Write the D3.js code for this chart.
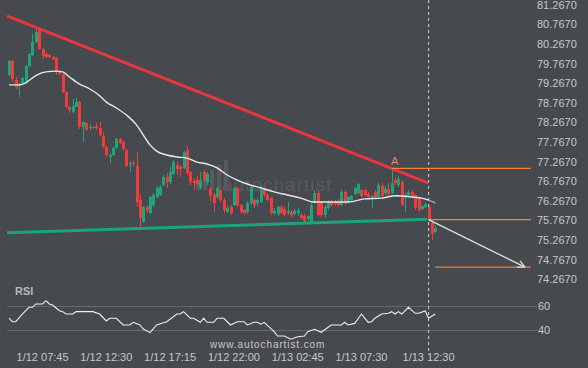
<!DOCTYPE html>
<html><head><meta charset="utf-8">
<script src="https://cdn.jsdelivr.net/npm/d3@7"></script>
<style>
html,body{margin:0;padding:0;background:#46494e;}
svg{display:block;}
text{font-family:"Liberation Sans",Arial,sans-serif;}
</style></head><body>
<svg id="c" width="588" height="368"></svg>
<script>
// ---- DATA ----
const opens = [79.48,79.84,79.35,79.20,79.28,79.30,79.71,79.99,80.32,80.63,
 80.15,80.02,79.99,79.94,79.92,79.56,79.51,79.05,78.67,78.54,
 78.67,78.79,78.16,78.26,78.13,78.16,78.18,78.13,77.93,77.65,
 77.39,77.44,77.62,77.85,77.77,77.57,77.21,77.24,77.16,76.29,
 75.73,76.11,75.96,76.17,76.37,76.42,76.68,76.88,76.75,76.96,
 77.19,77.14,77.11,77.57,77.01,76.78,76.80,76.60,77.01,76.73,
 76.57,76.42,76.37,76.55,76.29,75.99,76.11,76.17,76.60,76.17,
 76.04,75.99,76.22,76.29,76.22,76.24,76.57,76.42,76.34,75.96,
 75.94,76.11,76.06,75.96,75.99,75.94,75.96,75.91,75.89,75.81,
 75.73,76.22,76.47,76.22,75.91,76.09,76.24,76.24,76.24,76.17,
 76.50,76.24,76.29,76.45,76.47,76.55,76.55,76.45,76.37,76.50,
 76.37,76.65,76.47,76.57,76.47,76.80,76.68,76.75,76.34,76.42,
 76.50,76.42,76.32,76.06,76.11,76.11,75.71,75.48];
const highs = [79.86,79.86,79.43,79.28,79.43,79.74,80.04,80.55,80.66,80.68,
 80.17,80.07,80.02,79.97,79.94,79.58,79.53,79.07,78.69,78.87,
 78.90,78.82,78.31,78.28,78.23,78.18,78.26,78.28,78.03,77.67,
 77.49,77.65,77.88,77.88,77.80,77.59,77.29,77.29,77.52,76.45,
 76.14,76.17,76.40,76.47,76.65,76.68,76.93,76.98,77.14,77.31,
 77.26,77.19,77.54,77.67,77.03,76.85,76.91,77.01,77.06,77.01,
 76.63,76.47,76.63,76.57,76.34,76.14,76.17,76.63,76.63,76.19,
 76.06,76.27,76.65,76.32,76.34,76.68,76.60,76.47,76.37,76.09,
 76.14,76.17,76.11,76.24,76.04,76.06,76.09,75.96,75.94,75.91,
 76.22,76.55,76.55,76.27,76.17,76.29,76.29,76.29,76.32,76.55,
 76.55,76.40,76.42,76.63,76.73,76.57,76.57,76.50,76.42,76.55,
 76.73,76.73,76.65,76.73,77.11,76.88,76.91,76.80,76.47,76.55,
 76.55,76.45,76.37,76.17,76.22,76.17,75.73,75.65];
const lows = [79.43,79.30,79.13,78.92,79.25,79.28,79.69,79.97,80.30,80.12,
 79.89,79.92,79.92,79.86,79.48,79.48,79.02,78.64,78.51,78.51,
 78.67,78.10,77.77,78.05,78.08,78.10,78.08,77.93,77.62,77.39,
 77.24,77.42,77.59,77.72,77.57,77.14,77.01,77.14,76.11,75.60,
 75.71,75.96,75.94,76.11,76.34,76.40,76.65,76.60,76.70,76.93,
 76.93,76.88,77.08,76.93,76.68,76.55,76.65,76.55,76.75,76.68,
 76.27,75.99,76.32,76.24,75.96,75.96,75.91,76.14,76.11,75.94,
 75.91,75.94,76.17,76.09,76.14,76.22,76.37,76.27,75.91,75.91,
 75.89,75.94,75.89,75.91,75.86,75.89,75.89,75.81,75.73,75.76,
 75.71,76.19,75.89,75.86,75.83,76.04,76.11,76.14,76.11,76.14,
 76.17,76.22,76.27,76.42,76.45,76.34,76.40,76.32,76.09,76.34,
 76.34,76.37,76.42,76.42,76.45,76.68,76.63,76.14,75.99,76.37,
 76.34,76.04,75.99,76.04,76.09,75.73,75.27,75.45];
const closes = [79.84,79.38,79.18,79.25,79.41,79.71,80.02,80.32,80.58,80.15,
 79.97,79.94,79.94,79.89,79.56,79.51,79.05,78.67,78.59,78.69,
 78.79,78.16,78.28,78.08,78.16,78.13,78.13,77.95,77.65,77.44,
 77.44,77.62,77.85,77.75,77.59,77.16,77.24,77.21,76.24,75.83,
 76.11,76.04,76.37,76.42,76.60,76.63,76.88,76.75,77.01,77.26,
 77.08,77.08,77.52,76.98,76.75,76.73,76.70,76.80,76.80,76.96,
 76.40,76.22,76.60,76.29,76.04,76.09,75.96,76.60,76.17,75.99,
 75.96,76.22,76.63,76.17,76.29,76.60,76.42,76.29,75.96,76.01,
 76.11,75.96,75.91,76.01,75.91,76.01,76.04,75.83,75.76,75.89,
 76.17,76.47,75.91,75.91,76.11,76.22,76.17,76.19,76.17,76.50,
 76.22,76.37,76.40,76.60,76.70,76.40,76.42,76.37,76.40,76.37,
 76.68,76.40,76.57,76.45,76.73,76.73,76.83,76.17,76.42,76.50,
 76.40,76.09,76.04,76.14,76.19,75.78,75.43,75.58];

const maIdx = [0,3,5,7,9,11,14,16,18,21,24,27,29,32,35,38,40,42,44,47,50,53,56,59,62,65,68,71,75,79,83,87,91,96,101,106,111,115,120,123,125,127];
const maVals = [79.23,79.23,79.28,79.41,79.51,79.56,79.58,79.56,79.43,79.25,79.13,78.95,78.79,78.64,78.46,78.21,77.95,77.70,77.54,77.44,77.39,77.36,77.26,77.21,77.11,76.93,76.80,76.70,76.60,76.50,76.42,76.34,76.24,76.24,76.24,76.32,76.34,76.40,76.37,76.34,76.29,76.22];

const rsiIdx = [0,1,2,4,5,6,7,8,10,11,12,13,15,16,17,19,20,25,27,29,30,32,34,36,37,39,40,42,44,46,47,50,51,52,54,55,57,58,59,61,62,64,66,68,70,71,73,74,75,76,79,80,82,84,86,88,89,91,92,93,96,99,100,101,103,105,107,108,109,111,113,114,115,116,117,119,121,122,124,125,127];
const rsiVals = [49.8,46.9,46.9,53.3,56.1,58.9,58.9,61.7,61.7,64.4,61.7,60.8,56.1,55.3,53.3,53.3,55.3,55.3,53.3,47.5,49.8,49.8,44.2,44.2,46.4,44.2,40.8,37.8,44.2,46.1,46.9,53.3,53.3,55.3,49.8,49.8,46.4,49.8,46.4,46.4,49.8,49.8,44.2,46.9,46.9,44.2,46.4,46.4,44.8,46.4,38.6,35,35,32.3,34.4,35,38.6,40.6,39.4,38.1,44.2,44.2,46.4,44.2,45.5,53.3,46.4,46.9,49.8,53.3,53.9,55.3,53.3,55.3,53.3,58.9,53.9,53.9,55.8,49.8,53.3];

const priceTicks = [81.267,80.767,80.267,79.767,79.267,78.767,78.267,77.767,77.267,76.767,76.267,75.767,75.267,74.767,74.267];
const rsiTicks = [60,40];
const timeIdx = [10,29,48,67,86,105,125];
const timeLabels = ["1/12 07:45","1/12 12:30","1/12 17:15","1/12 22:00","1/13 02:45","1/13 07:30","1/13 12:30"];

const resIdx = [-0.6,124.8], resVals = [80.99,76.73];
const supIdx = [-0.6,124.5], supVals = [75.46,75.80];
const nowIdx = 125;
const levelA = 77.10, levelAStart = 114;
const levelBreak = 75.79;
const levelTarget = 74.58;
const arrowIdx = [125,153.7], arrowVals = [75.79,74.58];
const levelEndIdx = 155.5;

// ---- SCALES ----
const svg = d3.select("#c");
const x = d3.scaleLinear().domain([0,127]).range([9,435.3]);
const y = d3.scaleLinear().domain([74.267,81.267]).range([279.4,5]);
const yr = d3.scaleLinear().domain([40,60]).range([330,306]);

const GREEN = "#1ca47a", RED = "#f23c3c", ORANGE = "#f0843c", LBL = "#c8c8c8";

// watermark
const wm = svg.append("g").attr("opacity",0.09);
[[196,180],[203,175],[210,170],[217,165],[224,160]].forEach(d=>{
  wm.append("rect").attr("x",d[0]).attr("y",d[1]).attr("width",4).attr("height",190-d[1]).attr("fill","#fff");
});
wm.append("text").attr("x",222).attr("y",191).attr("font-size",19).attr("letter-spacing",1)
  .attr("fill","#fff").text("autochartist");

// RSI grid
rsiTicks.forEach(t=>{
  svg.append("line").attr("x1",7).attr("x2",537).attr("y1",yr(t)).attr("y2",yr(t))
    .attr("stroke","#64686d").attr("stroke-width",1).attr("shape-rendering","crispEdges");
  svg.append("text").attr("x",538).attr("y",yr(t)).attr("dy","0.35em").attr("font-size",11)
    .attr("fill",LBL).text(t);
});

// price labels
priceTicks.forEach(t=>{
  svg.append("text").attr("x",537).attr("y",y(t)).attr("dy","0.35em").attr("font-size",11)
    .attr("fill",LBL).text(t.toFixed(4));
});

// time labels
timeIdx.forEach((t,k)=>{
  svg.append("text").attr("x",x(t)).attr("y",361).attr("text-anchor","middle").attr("font-size",11)
    .attr("fill",LBL).text(timeLabels[k]);
});

svg.append("text").attr("x",15).attr("y",295).attr("font-size",11).attr("font-weight","bold")
  .attr("fill","#b8b8b8").text("RSI");
svg.append("text").attr("x",210).attr("y",348).attr("font-size",10).attr("letter-spacing",0.9)
  .attr("fill",LBL).text("www.autochartist.com");

// now line
svg.append("line").attr("x1",x(nowIdx)).attr("x2",x(nowIdx)).attr("y1",0).attr("y2",352)
  .attr("stroke","#d0d0d0").attr("stroke-width",1).attr("stroke-dasharray","3,3");

// candles
const n = opens.length;
const g = svg.append("g").attr("shape-rendering","crispEdges");
for(let i=0;i<n;i++){
  const up = closes[i] >= opens[i];
  const col = up ? GREEN : RED;
  const cx = Math.round(x(i))+0.5;
  g.append("line").attr("x1",cx).attr("x2",cx).attr("y1",y(highs[i])).attr("y2",y(lows[i]))
    .attr("stroke",col).attr("stroke-width",1);
  const top = y(Math.max(opens[i],closes[i])), bot = y(Math.min(opens[i],closes[i]));
  g.append("rect").attr("x",Math.round(x(i))-1).attr("y",top).attr("width",3)
    .attr("height",Math.max(1,bot-top)).attr("fill",col);
}

// MA
const maPts = maIdx.map((d,k)=>[x(d),y(maVals[k])]);
const line = d3.line().curve(d3.curveMonotoneX);
svg.append("path").attr("d",line(maPts.filter((p,k)=>maIdx[k]<=125)))
  .attr("fill","none").attr("stroke","#e8e8e8").attr("stroke-width",1.4);
svg.append("path").attr("d",line(maPts.filter((p,k)=>maIdx[k]>=125)))
  .attr("fill","none").attr("stroke","#a8a8a8").attr("stroke-width",1.4);

// trendlines
svg.append("line").attr("x1",x(resIdx[0])).attr("y1",y(resVals[0])).attr("x2",x(resIdx[1])).attr("y2",y(resVals[1]))
  .attr("stroke","#e8373a").attr("stroke-width",3);
svg.append("line").attr("x1",x(supIdx[0])).attr("y1",y(supVals[0])).attr("x2",x(supIdx[1])).attr("y2",y(supVals[1]))
  .attr("stroke","#19a57b").attr("stroke-width",3);

// orange levels
svg.append("line").attr("x1",x(levelAStart)).attr("x2",x(levelEndIdx)).attr("y1",y(levelA)).attr("y2",y(levelA))
  .attr("stroke",ORANGE).attr("stroke-width",1.2);
svg.append("line").attr("x1",x(nowIdx)).attr("x2",x(levelEndIdx)).attr("y1",y(levelBreak)).attr("y2",y(levelBreak))
  .attr("stroke",ORANGE).attr("stroke-width",1.2);
svg.append("line").attr("x1",x(127)).attr("x2",x(levelEndIdx)).attr("y1",y(levelTarget)).attr("y2",y(levelTarget))
  .attr("stroke",ORANGE).attr("stroke-width",1.2);
svg.append("text").attr("x",x(levelAStart)+3).attr("y",y(levelA)-3).attr("text-anchor","middle")
  .attr("font-size",11).attr("fill","#e08a5a").text("A");

// arrow
const ax1 = x(arrowIdx[0]), ay1 = y(arrowVals[0]), ax2 = x(arrowIdx[1]), ay2 = y(arrowVals[1]);
svg.append("line").attr("x1",ax1).attr("y1",ay1).attr("x2",ax2).attr("y2",ay2)
  .attr("stroke","#e0e0e0").attr("stroke-width",1.3);
const ang = Math.atan2(ay2-ay1, ax2-ax1);
[0.45,-0.45].forEach(da=>{
  svg.append("line").attr("x1",ax2).attr("y1",ay2)
    .attr("x2",ax2-8*Math.cos(ang+da)).attr("y2",ay2-8*Math.sin(ang+da))
    .attr("stroke","#e0e0e0").attr("stroke-width",1.3);
});

// RSI line
svg.append("path").attr("d",d3.line()(rsiIdx.map((d,k)=>[x(d),yr(rsiVals[k])])))
  .attr("fill","none").attr("stroke","#f0f0f0").attr("stroke-width",1.1);
</script>
</body></html>
